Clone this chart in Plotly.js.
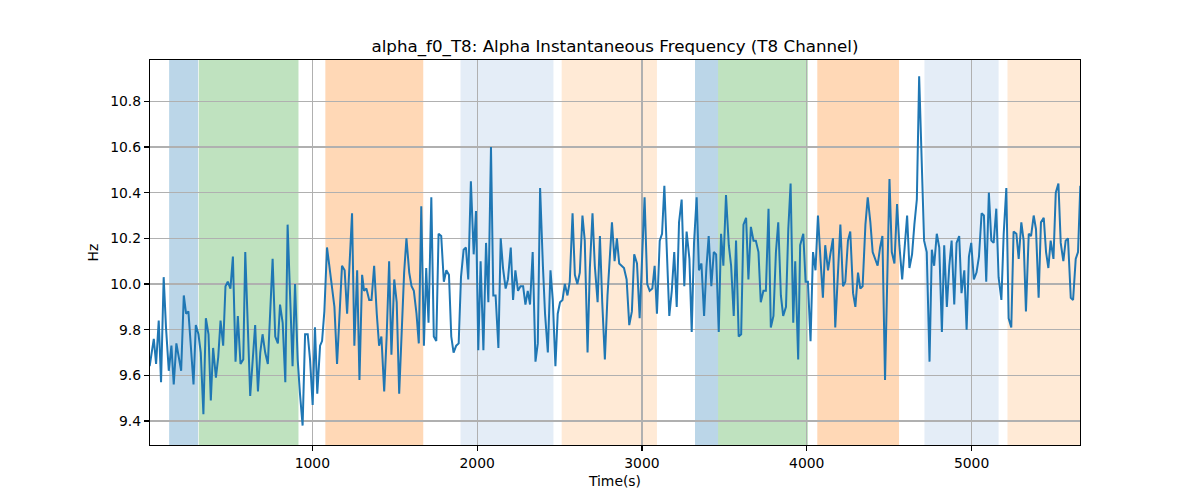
<!DOCTYPE html>
<html>
<head>
<meta charset="utf-8">
<script src="https://cdn.plot.ly/plotly-3.0.1.min.js"></script>
<style>html,body{margin:0;padding:0;background:#fff;}#chart{width:1200px;height:500px;}</style>
</head>
<body>
<div id="chart"></div>
<script>
// Time (s) of each sample
const timeS = [13,26,38,52,68,82,98,112,129,145,159,175,190,204,220,234,248,263,279,293,309,323,339,354,370,384,398,415,429,443,459,473,487,503,518,534,548,564,
581,593,623,653,670,684,698,714,730,759,775,791,804,820,836,850,880,895,911,925,941,956,972,986,1002,1016,1030,1047,1059,1073,1089,1103,1117,1134,
1150,1180,1196,1211,1241,1255,1272,1286,1302,1314,1328,1345,1359,1375,1391,1405,1419,1436,1451,1466,1480,1497,1512,1527,1557,1571,1588,1602,1616,1632,1646,1661,1677,1691,
1705,1722,1737,1752,1766,1782,1798,1813,1829,1843,1857,1873,1888,1902,1918,1932,1946,1962,1979,1993,2007,2021,2038,2054,2068,2084,2098,2112,2129,2143,2157,2173,2187,2204,2218,2232,2248,
2263,2279,2293,2307,2321,2337,2354,2368,2382,2399,2412,2429,2445,2459,2475,2489,2503,2518,2532,2548,2562,2579,2593,2608,2623,2639,2653,2670,2684,2700,2714,2731,2745,2759,2775,2791,
2818,2834,2848,2862,2877,2891,2907,2923,2939,2953,2970,2986,3016,3032,3047,3063,3077,3091,3108,3122,3136,3152,3166,3181,3196,3211,3225,3241,3257,3271,3288,3302,3316,3332,3346,3361,
3377,3391,3405,3421,3436,3450,3466,3480,3494,3510,3527,3541,3557,3571,3587,3602,3616,3632,3646,3661,3677,3691,3707,3721,3737,3752,3768,3782,3798,3813,3827,3843,3857,3874,3888,3902,3918,3930,
3948,3960,3979,3993,4007,4023,4038,4053,4068,4084,4098,4112,4129,4143,4159,4173,4189,4204,4220,4234,4250,4264,4281,4295,4311,4325,4339,4356,4370,4386,4400,4415,4430,4445,4459,4475,
4502,4516,4532,4548,4562,4579,4593,4609,4623,4639,4653,4668,4682,4698,4712,4728,4745,4759,4773,4789,4804,4820,4834,4850,4865,4879,4895,4909,4925,4939,4956,4970,4984,4998,5014,5030,5045,
5061,5075,5089,5105,5120,5134,5150,5164,5181,5195,5211,5225,5241,5255,5272,5286,5302,5316,5330,5347,5361,5377,5391,5407,5421,5438,5452,5466,5480,5497,5511,5527,5541,5557,5571,5585,5602,5616,5632,5646,5660];

// Alpha instantaneous frequency (Hz)
const freqHz = [9.64,9.71,9.76,9.65,9.84,9.57,10.03,9.81,9.62,9.73,9.56,9.74,9.68,9.62,9.95,9.87,9.88,9.70,9.56,9.82,9.78,9.70,9.43,9.85,9.78,9.49,9.72,9.59,9.68,9.84,9.73,9.99,10.01,9.98,10.12,9.66,9.86,9.65,
9.67,10.14,9.51,9.82,9.53,9.70,9.78,9.70,9.65,10.11,9.77,9.74,9.91,9.83,9.57,10.26,9.64,10.00,9.67,9.52,9.38,9.78,9.78,9.67,9.47,9.81,9.52,9.73,9.75,9.88,10.16,10.08,9.99,9.90,
9.65,10.08,10.06,9.87,10.31,9.73,10.06,9.58,10.04,9.97,9.98,9.93,9.93,10.08,9.87,9.73,9.77,9.53,9.77,10.10,9.69,10.02,9.92,9.52,10.05,10.20,10.05,9.99,9.97,9.87,9.74,10.34,9.73,10.07,
9.83,10.38,9.77,9.75,10.22,10.21,10.01,10.06,10.04,9.77,9.70,9.73,9.74,10.03,10.15,10.16,10.02,10.45,10.13,10.32,9.71,10.10,9.71,10.18,9.92,10.60,9.95,9.95,9.72,10.20,10.07,9.98,10.02,10.16,9.93,10.06,9.97,
9.99,9.99,9.91,9.97,9.91,10.14,9.66,9.74,10.42,10.08,9.87,9.70,10.06,9.93,9.64,9.87,9.92,9.93,10.00,9.95,10.01,10.31,10.04,10.00,10.05,10.30,10.19,9.70,10.07,10.31,10.08,9.92,10.21,9.92,9.67,9.95,
10.27,10.10,10.20,10.09,10.08,10.07,10.02,9.82,9.88,10.13,10.09,9.85,10.38,10.00,9.97,9.98,10.08,9.87,10.19,10.22,10.43,10.08,9.86,9.97,10.14,9.90,10.27,10.37,9.99,10.23,10.11,9.79,10.18,10.38,10.06,10.09,
9.86,10.07,10.21,9.99,10.14,10.13,9.79,10.22,10.08,10.39,10.17,10.08,9.86,10.19,9.77,9.78,10.26,10.29,10.02,10.25,10.19,10.19,10.14,9.92,9.97,9.97,10.33,9.81,9.86,10.14,10.27,9.95,9.86,9.90,10.24,10.44,9.83,10.10,
9.67,10.17,10.22,10.01,10.01,9.75,10.14,10.06,10.30,10.10,9.94,10.17,10.06,10.13,10.20,9.81,10.08,10.26,9.99,10.01,10.19,10.23,9.96,9.90,10.05,9.98,9.99,10.26,10.38,10.27,10.14,10.11,10.08,10.16,10.21,9.58,
10.46,10.14,10.09,10.35,10.17,10.02,10.17,10.30,10.07,10.13,10.26,10.37,10.91,10.55,10.19,10.14,9.66,10.15,10.08,10.22,10.16,9.79,10.17,9.90,10.08,10.19,9.91,10.18,10.21,9.96,10.06,9.80,10.12,10.18,10.02,10.05,10.12,
10.31,10.30,10.01,10.40,10.19,10.18,10.33,10.03,9.93,10.22,10.42,9.85,9.81,10.23,10.22,10.11,10.27,10.19,9.88,10.22,10.21,10.30,10.24,9.94,10.27,10.29,10.14,10.07,10.19,10.11,10.40,10.44,10.18,10.10,10.19,10.20,9.94,9.93,10.11,10.14,10.43];

// Shaded intervals (time, s) and their kind
const spanStart = [131, 311, 1079, 1899, 2513, 3322, 3462, 4064, 4714, 5218];
const spanEnd   = [307, 916, 1673, 2463, 3091, 3462, 4007, 4560, 5164, 5700];
const spanKind  = ['blue','green','orange','lightblue','lightorange','blue','green','orange','lightblue','lightorange'];

const kindColor = {
  blue: 'rgba(31,119,180,0.3)',
  green: 'rgba(44,160,44,0.3)',
  orange: 'rgba(255,127,14,0.3)',
  lightblue: 'rgba(174,199,232,0.33)',
  lightorange: 'rgba(255,187,120,0.3)'
};

const shapes = spanStart.map((s, i) => ({
  type: 'rect', xref: 'x', yref: 'paper', x0: s, x1: spanEnd[i], y0: 0, y1: 1,
  fillcolor: kindColor[spanKind[i]], line: {width: 0}, layer: 'below'
}));

const trace = {
  x: timeS, y: freqHz, type: 'scatter', mode: 'lines',
  line: {color: '#1f77b4', width: 2}, hoverinfo: 'skip'
};

const font = {family: 'DejaVu Sans, sans-serif', color: '#000'};

const layout = {
  width: 1200, height: 500,
  margin: {l: 150, r: 120, t: 60, b: 55},
  paper_bgcolor: '#fff', plot_bgcolor: '#fff',
  showlegend: false,
  font: Object.assign({size: 13.9}, font),
  title: {text: 'alpha_f0_T8: Alpha Instantaneous Frequency (T8 Channel)',
          font: Object.assign({size: 16.7}, font),
          x: 0.5125, xref: 'container', xanchor: 'center', y: 1 - 46/500, yref: 'container', yanchor: 'middle'},
  xaxis: {
    range: [15, 5658], tickvals: [1000,2000,3000,4000,5000], ticktext: ['1000','2000','3000','4000','5000'],
    showgrid: true, gridcolor: '#b0b0b0', gridwidth: 1.1,
    showline: true, linecolor: '#000', linewidth: 1.1, mirror: true,
    ticks: 'outside', ticklen: 5, tickwidth: 1.1, tickcolor: '#000',
    zeroline: false, tickfont: Object.assign({size: 13.9}, font),
    title: {text: 'Time(s)', font: Object.assign({size: 13.9}, font), standoff: 6}
  },
  yaxis: {
    range: [9.295, 10.981], tickvals: [9.4,9.6,9.8,10.0,10.2,10.4,10.6,10.8],
    ticktext: ['9.4','9.6','9.8','10.0','10.2','10.4','10.6','10.8'],
    showgrid: true, gridcolor: '#b0b0b0', gridwidth: 1.1,
    showline: true, linecolor: '#000', linewidth: 1.1, mirror: true,
    ticks: 'outside', ticklen: 5, tickwidth: 1.1, tickcolor: '#000',
    zeroline: false, tickfont: Object.assign({size: 13.9}, font),
    title: {text: 'Hz', font: Object.assign({size: 13.9}, font), standoff: 8}
  },
  shapes: shapes
};

Plotly.newPlot('chart', [trace], layout, {staticPlot: true, displayModeBar: false});
</script>
</body>
</html>
